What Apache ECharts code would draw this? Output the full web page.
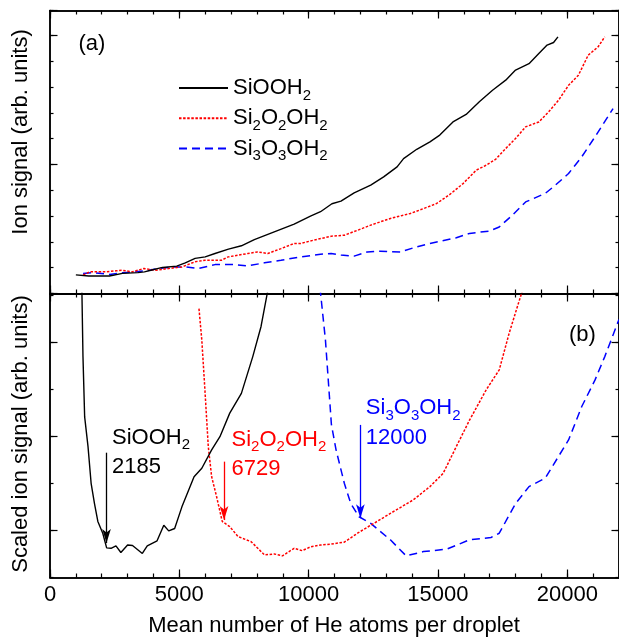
<!DOCTYPE html>
<html>
<head>
<meta charset="utf-8">
<script src="https://cdn.jsdelivr.net/npm/echarts@6/dist/echarts.min.js"></script>
<style>html,body{margin:0;padding:0;background:#fff}#c{width:619px;height:640px}</style>
</head>
<body>
<div id="c"></div>
<script>
const FONT = "'Liberation Sans', Arial, Helvetica, sans-serif";

// ---------- Panel (a): ion signal vs mean number of He atoms ----------
const aSiOOH2X = [1000,1500,2000,2300,2800,3400,3650,3900,4350,4900,5230,5610,6000,6380,6900,7400,7900,8670,9440,10070,10460,10900,11250,11760,12400,12900,13420,13670,14180,14690,15070,15580,16090,16600,17110,17620,18000,18520,18900,19220,19470,19640];
const aSiOOH2Y = [0.72,0.68,0.68,0.68,0.78,0.81,0.84,0.90,1.01,1.06,1.19,1.36,1.42,1.55,1.72,1.85,2.09,2.39,2.69,3.00,3.17,3.48,3.58,3.90,4.20,4.52,4.91,5.23,5.59,5.88,6.14,6.65,6.94,7.43,7.88,8.27,8.66,8.91,9.30,9.63,9.73,9.95];

const aSi2X = [1280,1530,2170,2550,2800,3190,3630,4080,4590,5100,5610,5990,6630,6890,7650,8030,8420,8930,9440,9690,10200,10870,11380,11890,12400,13160,13930,14440,14950,15460,15970,16480,16860,17240,17620,18000,18390,18900,19280,19660,20050,20430,20810,21190,21450];
const aSi2Y = [0.71,0.84,0.84,0.88,0.90,0.84,0.97,0.90,0.97,1.03,1.23,1.29,1.29,1.42,1.55,1.61,1.55,1.74,1.94,1.94,2.07,2.22,2.26,2.45,2.65,2.91,3.10,3.29,3.49,3.84,4.26,4.78,4.97,5.21,5.62,6.01,6.46,6.65,7.04,7.49,8.07,8.46,9.24,9.56,9.95];

const aSi3X = [1280,1660,2300,2800,3320,3700,4210,4850,5230,5740,6380,7140,7650,8290,8930,9690,10460,10870,11250,11760,12270,12780,13540,14180,14950,15710,16220,16990,17370,17880,18390,19150,19540,20050,20560,21070,21770];
const aSi3Y = [0.78,0.81,0.74,0.80,0.84,0.88,0.97,1.03,1.03,0.97,1.12,1.12,1.07,1.19,1.29,1.42,1.52,1.55,1.49,1.45,1.61,1.64,1.61,1.81,2.00,2.16,2.33,2.42,2.58,3.04,3.55,3.88,4.20,4.65,5.30,6.07,7.17];

// ---------- Panel (b): scaled ion signal ----------
const bSiOOH2X = [1230,1275,1340,1470,1590,1720,1850,2040,2190,2360,2550,2740,3000,3190,3570,3760,4140,4400,4590,4820,5100,5570,5870,6250,6570,6950,7400,7840,8160,8440];
const bSiOOH2Y = [6.2,4.69,3.41,2.78,2.00,1.57,1.19,0.94,0.63,0.62,0.67,0.53,0.69,0.68,0.51,0.67,0.78,1.11,0.99,1.04,1.50,2.14,2.32,2.71,2.99,3.49,3.91,4.69,5.33,6.15];

const bSi2X = [5760,5870,5990,6120,6250,6440,6660,6690,6950,7270,7780,8290,8670,8990,9440,9750,10070,10460,10870,11380,11890,12400,13160,14050,14690,15200,15710,16220,16860,17370,17750,18070,18300];
const bSi2Y = [5.71,5.04,3.98,2.78,2.14,1.72,1.19,1.15,1.08,0.87,0.76,0.48,0.50,0.46,0.62,0.57,0.65,0.69,0.71,0.75,0.94,1.11,1.36,1.65,1.93,2.21,2.78,3.34,3.98,4.41,5.18,5.75,6.15];

const bSi3X = [10440,10650,10880,11060,11380,11630,11950,12400,13160,13770,14440,15330,16220,17050,17370,18000,18520,19150,19660,20050,20560,21070,21450,21770,22000];
const bSi3Y = [6.15,5.04,3.25,2.71,2.00,1.57,1.29,1.15,0.80,0.46,0.55,0.60,0.80,0.85,0.94,1.57,1.93,2.11,2.57,2.92,3.63,4.19,4.69,5.15,5.48];

// ---------- Labels / annotations ----------
const seriesNames = ['SiOOH2', 'Si2O2OH2', 'Si3O3OH2'];
const seriesColors = ['#000000', '#ff0000', '#0000ff'];
const xTickLabels = [0, 5000, 10000, 15000, 20000];
const minimaX = [2185, 6729, 12000];          // arrow positions (value shown)
const arrowTopY = [2.65, 2.46, 3.24];
const arrowTipY = [0.73, 1.22, 1.26];
const labelAnchorY = [2.654, 2.61, 3.28];
const labelGap = [5, 7, 5];
const bMajorTicks = [1, 3, 5];

const richMap = {
  'SiOOH2': '{n|SiOOH}{s|2}',
  'Si2O2OH2': '{n|Si}{s|2}{n|O}{s|2}{n|OH}{s|2}',
  'Si3O3OH2': '{n|Si}{s|3}{n|O}{s|3}{n|OH}{s|2}'
};
function rich(L, color) {
  return {
    n: { fontSize: 22, fontFamily: FONT, color: color, lineHeight: L },
    s: { fontSize: 15, fontFamily: FONT, color: color, lineHeight: L, verticalAlign: 'bottom' }
  };
}

function zip(xs, ys) { const out = []; const n = Math.min(xs.length, ys.length); for (let i = 0; i < n; i++) out.push([xs[i], ys[i]]); return out; }

// ---------- Axes ----------
const XMAX = 22000, AYMAX = 10.97, BYMAX = 6.03;
function ax(extra) {
  const base = {
    type: 'value', silent: true,
    axisLine: { show: true, onZero: false, lineStyle: { color: '#000', width: 1.5 } },
    splitLine: { show: false },
    axisLabel: { show: false },
    axisTick: { show: true, inside: true, length: 4, lineStyle: { color: '#000', width: 1.2 } }
  };
  const o = Object.assign({}, base, extra);
  if (extra.axisTick) o.axisTick = Object.assign({}, base.axisTick, extra.axisTick);
  return o;
}
const xAxes = [];
const yAxes = [];
[0, 1].forEach(g => {
  ['bottom', 'top'].forEach(pos => {
    xAxes.push(ax({ gridIndex: g, position: pos, min: 0, max: XMAX, interval: 1000, axisTick: { length: 4 } }));
    const major = ax({ gridIndex: g, position: pos, min: 0, max: XMAX, interval: 5000, axisTick: { length: 8 } });
    if (g === 1 && pos === 'bottom') {
      major.axisLabel = {
        show: true, fontSize: 22, fontFamily: FONT, color: '#000', margin: 17.5, verticalAlign: 'middle',
        showMaxLabel: false,
        formatter: v => (xTickLabels.indexOf(v) >= 0 ? String(v) : '')
      };
    }
    xAxes.push(major);
  });
  ['left', 'right'].forEach(pos => {
    const ymax = g === 0 ? AYMAX : BYMAX;
    yAxes.push(ax({ gridIndex: g, position: pos, min: 0, max: ymax, interval: 1, axisTick: { length: 3.5 } }));
    if (g === 0) {
      yAxes.push(ax({ gridIndex: g, position: pos, min: 0, max: ymax, interval: 5, axisTick: { length: 7.5 } }));
    } else {
      yAxes.push(ax({ gridIndex: g, position: pos, min: 0, max: ymax, interval: 1, axisTick: { length: 7.5, customValues: bMajorTicks } }));
    }
  });
});

// ---------- Series ----------
const styles = [
  { color: seriesColors[0], width: 1.4, type: 'solid' },
  { color: seriesColors[1], width: 1.5, type: [2.5, 1.6] },
  { color: seriesColors[2], width: 1.5, type: [8, 5] }
];
const aData = [zip(aSiOOH2X, aSiOOH2Y), zip(aSi2X, aSi2Y), zip(aSi3X, aSi3Y)];
const bData = [zip(bSiOOH2X, bSiOOH2Y), zip(bSi2X, bSi2Y), zip(bSi3X, bSi3Y)];

const series = [];
aData.forEach((d, i) => {
  series.push({
    name: seriesNames[i], type: 'line', xAxisIndex: 0, yAxisIndex: 0, data: d,
    symbol: 'none', showSymbol: false, clip: true, silent: true,
    color: seriesColors[i], lineStyle: styles[i], z: 3 - i
  });
});
bData.forEach((d, i) => {
  const num = String(minimaX[i]);
  series.push({
    name: seriesNames[i] + ' (b)', type: 'line', xAxisIndex: 4, yAxisIndex: 4, data: d,
    symbol: 'none', showSymbol: false, clip: true, silent: true,
    color: seriesColors[i], lineStyle: styles[i], z: 3 - i,
    markLine: {
      silent: true, animation: false, symbol: ['none', 'arrow'],
      label: { show: false },
      lineStyle: { color: seriesColors[i], width: 1.3, type: 'solid' },
      emphasis: { disabled: true },
      data: [[
        { coord: [minimaX[i], arrowTopY[i]], symbol: 'none' },
        { coord: [minimaX[i], arrowTipY[i]], symbol: 'arrow', symbolSize: [6.5, 14] }
      ]]
    },
    markPoint: {
      silent: true, animation: false, symbol: 'circle', symbolSize: 1,
      itemStyle: { color: 'rgba(0,0,0,0)' },
      data: [{
        coord: [minimaX[i], labelAnchorY[i]],
        label: {
          show: true, position: 'right', distance: labelGap[i], color: seriesColors[i],
          formatter: richMap[seriesNames[i]] + '\n{n|' + num + '}',
          rich: rich(29.5, seriesColors[i])
        }
      }]
    }
  });
});

const option = {
  animation: false,
  backgroundColor: '#ffffff',
  grid: [
    { left: 50, top: 10.5, width: 575, height: 283, containLabel: false },
    { left: 50, top: 293.5, width: 575, height: 284, containLabel: false }
  ],
  xAxis: xAxes,
  yAxis: yAxes,
  legend: {
    orient: 'vertical', left: 178, top: 77, padding: 0, itemGap: 4,
    itemWidth: 49, itemHeight: 14, selectedMode: false,
    data: seriesNames,
    itemStyle: { opacity: 0, color: 'rgba(0,0,0,0)', borderWidth: 0 },
    formatter: name => richMap[name],
    textStyle: { fontSize: 22, fontFamily: FONT, color: '#000', rich: rich(30.5, '#000') }
  },
  graphic: [
    { type: 'text', x: 78.5, y: 44, silent: true,
      style: { text: '(a)', fontSize: 22, fontFamily: FONT, fill: '#000', align: 'left', verticalAlign: 'middle' } },
    { type: 'text', x: 569, y: 335, silent: true,
      style: { text: '(b)', fontSize: 22, fontFamily: FONT, fill: '#000', align: 'left', verticalAlign: 'middle' } },
    { type: 'text', x: 21, y: 132, rotation: Math.PI / 2, silent: true,
      style: { text: 'Ion signal (arb. units)', fontSize: 22, fontFamily: FONT, fill: '#000', align: 'center', verticalAlign: 'middle' } },
    { type: 'text', x: 21, y: 434, rotation: Math.PI / 2, silent: true,
      style: { text: 'Scaled ion signal (arb. units)', fontSize: 22, fontFamily: FONT, fill: '#000', align: 'center', verticalAlign: 'middle' } },
    { type: 'text', x: 334, y: 626, silent: true,
      style: { text: 'Mean number of He atoms per droplet', fontSize: 22, fontFamily: FONT, fill: '#000', align: 'center', verticalAlign: 'middle' } }
  ],
  series: series
};

const chart = echarts.init(document.getElementById('c'), null, { renderer: 'canvas', devicePixelRatio: 1 });
chart.setOption(option);
</script>
</body>
</html>
